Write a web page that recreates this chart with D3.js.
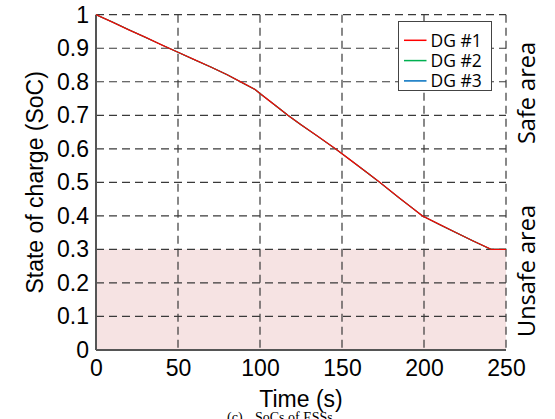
<!DOCTYPE html>
<html>
<head>
<meta charset="utf-8">
<script src="https://cdn.jsdelivr.net/npm/d3@7"></script>
<style>
  html, body { margin: 0; padding: 0; background: #fff; }
  svg { display: block; }
</style>
</head>
<body>
<svg id="chart" width="555" height="419"></svg>
<script>
// ---- data ----
const time   = [0, 10, 20, 30, 40, 50, 60, 70, 80, 90, 97, 100, 105, 110, 117, 125, 135, 146, 155, 165, 173, 185, 193, 199, 210, 220, 230, 241, 250];
const socDG1 = [1.0, 0.978, 0.955, 0.933, 0.91, 0.888, 0.866, 0.844, 0.821, 0.795, 0.777, 0.765, 0.746, 0.727, 0.70, 0.672, 0.638, 0.60, 0.567, 0.530, 0.50, 0.453, 0.423, 0.40, 0.373, 0.349, 0.325, 0.30, 0.30];
const socDG2 = [1.0, 0.978, 0.955, 0.933, 0.91, 0.888, 0.866, 0.844, 0.821, 0.795, 0.777, 0.765, 0.746, 0.727, 0.70, 0.672, 0.638, 0.60, 0.567, 0.530, 0.50, 0.453, 0.423, 0.40, 0.373, 0.349, 0.325, 0.30, 0.30];
const socDG3 = [1.0, 0.978, 0.955, 0.933, 0.91, 0.888, 0.866, 0.844, 0.821, 0.795, 0.777, 0.765, 0.746, 0.727, 0.70, 0.672, 0.638, 0.60, 0.567, 0.530, 0.50, 0.453, 0.423, 0.40, 0.373, 0.349, 0.325, 0.30, 0.30];
const seriesNames = ["DG #1", "DG #2", "DG #3"];
const xTicks = [0, 50, 100, 150, 200, 250];
const yTicks = [0, 0.1, 0.2, 0.3, 0.4, 0.5, 0.6, 0.7, 0.8, 0.9, 1];
const unsafeLimit = 0.3;
const xLabel = "Time (s)";
const yLabel = "State of charge (SoC)";
const safeLabel = "Safe area";
const unsafeLabel = "Unsafe area";
const captionTag = "(c)";
const captionText = "SoCs of ESSs";

// ---- layout ----
const L = 96, R = 506, T = 14.7, B = 350;
const svg = d3.select("#chart");
const x = d3.scaleLinear().domain([0, 250]).range([L, R]);
const y = d3.scaleLinear().domain([0, 1]).range([B, T]);

const colors = ["#ff0000", "#00b050", "#0070c0"];
const series = [socDG1, socDG2, socDG3];

// unsafe shading
svg.append("rect")
  .attr("x", x(0)).attr("y", y(unsafeLimit))
  .attr("width", x(250) - x(0)).attr("height", y(0) - y(unsafeLimit))
  .attr("fill", "#f6e3e3");

// grid
const gridStyle = g => g.attr("stroke", "#3a3a3a").attr("stroke-width", 1.2).attr("stroke-dasharray", "8,5");
svg.append("g").selectAll("line").data(yTicks.filter(d => d > 0)).join("line")
  .attr("x1", L).attr("x2", R).attr("y1", d => y(d)).attr("y2", d => y(d))
  .call(gridStyle);
svg.append("g").selectAll("line").data(xTicks.filter(d => d > 0)).join("line")
  .attr("y1", T).attr("y2", B).attr("x1", d => x(d)).attr("x2", d => x(d))
  .call(gridStyle);

// axes
const fontAxis = "'Liberation Sans', Arial, sans-serif";
const yAxis = svg.append("g").attr("transform", `translate(${L},0)`)
  .call(d3.axisLeft(y).tickValues(yTicks).tickFormat(d3.format("~g")).tickSize(0).tickPadding(7));
yAxis.select(".domain").remove();
yAxis.selectAll("text").attr("font-family", fontAxis).attr("font-size", 23).attr("fill", "#000");

const xAxis = svg.append("g").attr("transform", `translate(0,${B})`)
  .call(d3.axisBottom(x).tickValues(xTicks).tickFormat(d3.format("d")).tickSize(0).tickPadding(10));
xAxis.select(".domain").remove();
xAxis.selectAll("text").attr("font-family", fontAxis).attr("font-size", 23).attr("fill", "#000");

svg.append("line").attr("x1", L).attr("x2", L).attr("y1", T).attr("y2", B)
  .attr("stroke", "#555").attr("stroke-width", 2);
svg.append("line").attr("x1", L).attr("x2", R).attr("y1", B).attr("y2", B)
  .attr("stroke", "#555").attr("stroke-width", 2);

// lines
const line = d3.line().x((d, i) => x(time[i])).y(d => y(d));
[2, 1, 0].forEach(k => {
  svg.append("path").datum(series[k])
    .attr("d", line)
    .attr("fill", "none")
    .attr("stroke", colors[k])
    .attr("stroke-width", k === 0 ? 1.3 : 1.1)
    .attr("stroke-opacity", k === 0 ? 0.95 : 1);
});

// legend
const fontLeg = "'Open Sans', sans-serif";
const leg = svg.append("g");
leg.append("rect").attr("x", 398.5).attr("y", 21.5).attr("width", 93).attr("height", 69)
  .attr("fill", "#fff").attr("stroke", "#444").attr("stroke-width", 1);
seriesNames.forEach((name, i) => {
  const cy = 40.3 + i * 20.3;
  leg.append("line").attr("x1", 404).attr("x2", 426.5).attr("y1", cy).attr("y2", cy)
    .attr("stroke", colors[i]).attr("stroke-width", 1.5);
  leg.append("text").attr("x", 430.5).attr("y", cy + 6.2).text(name)
    .attr("font-family", fontLeg).attr("font-size", 17.5).attr("fill", "#000");
});

// axis labels
svg.append("text").attr("transform", `translate(43,${(T + B) / 2}) rotate(-90)`)
  .attr("text-anchor", "middle").attr("font-family", fontAxis).attr("font-size", 23)
  .text(yLabel);
svg.append("text").attr("x", (L + R) / 2).attr("y", 407)
  .attr("text-anchor", "middle").attr("font-family", fontAxis).attr("font-size", 23)
  .text(xLabel);

// side labels
const fontSide = "'Open Sans', sans-serif";
svg.append("text").attr("transform", `translate(535,93) rotate(-90)`)
  .attr("text-anchor", "middle").attr("font-family", fontSide).attr("font-size", 23.5)
  .text(safeLabel);
svg.append("text").attr("transform", `translate(535,271) rotate(-90)`)
  .attr("text-anchor", "middle").attr("font-family", fontSide).attr("font-size", 23.5)
  .text(unsafeLabel);

// caption (partly cut off at the bottom, as in the reference)
svg.append("text").attr("x", 227).attr("y", 422)
  .attr("font-family", "'Liberation Serif', serif").attr("font-size", 14)
  .text(captionTag);
svg.append("text").attr("x", 255).attr("y", 422)
  .attr("font-family", "'Liberation Serif', serif").attr("font-size", 14)
  .text(captionText);
</script>
</body>
</html>
